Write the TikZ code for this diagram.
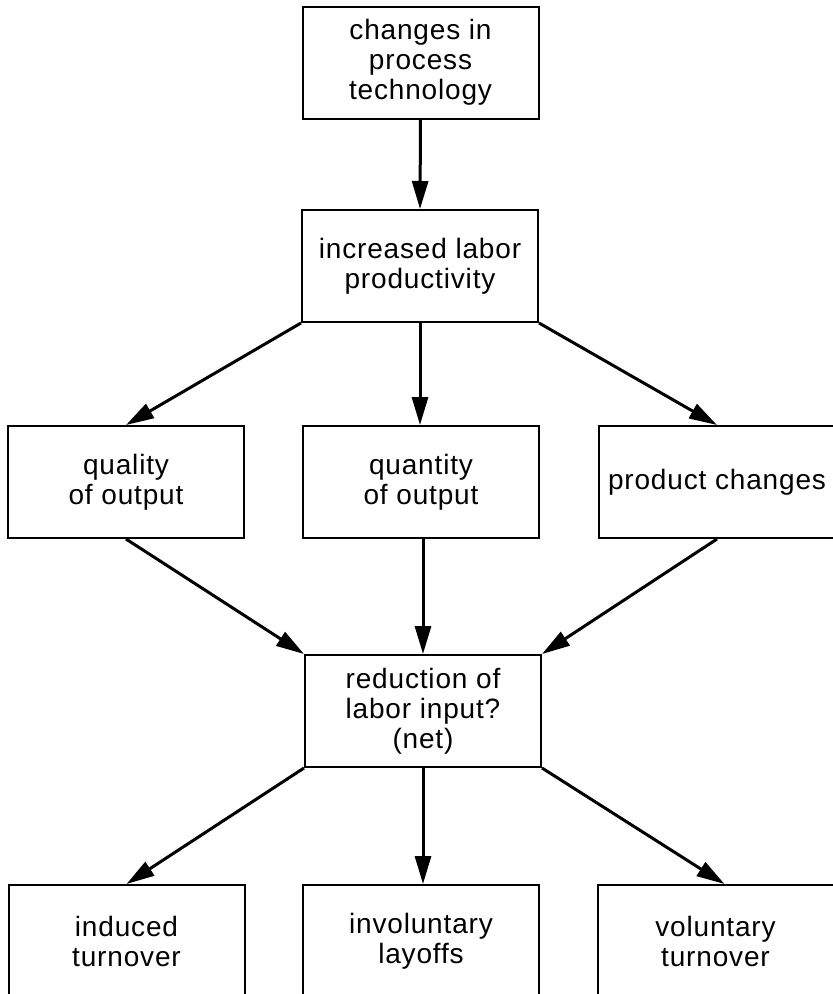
\documentclass[tikz,border=0pt]{standalone}
\usepackage{fontspec}
\setmainfont[LetterSpace=3]{Liberation Sans}
\usepackage{tikz}
\usetikzlibrary{arrows.meta}

\begin{document}
\begin{tikzpicture}[x=1pt, y=-1pt,
		box/.style={draw=black, line width=2pt, minimum width=236pt, minimum height=112pt,
			align=center, inner sep=0pt, font=\fontsize{28}{30}\selectfont},
		arr/.style={line width=3pt, -{Triangle[length=28pt,width=16pt]}}]
				\useasboundingbox (0,0) rectangle (833,994);
				% top of the chain
				\node[box] (tech) at (420.5,62.5) {changes in\\process\\technology};
				\node[box] (prod) at (420,266) {increased labor\\productivity};
				% middle row
				\node[box] (quality) at (126,482) {quality\\of output};
				\node[box] (quantity) at (421,482) {quantity\\of output};
				\node[box] (product) at (717,482) {product changes};
				\node[box] (reduct) at (423,711) {reduction of\\labor input?\\(net)};
				% bottom row
				\node[box] (induced) at (126.5,941) {induced\\turnover};
				\node[box] (layoffs) at (421,941) {involuntary\\layoffs};
				\node[box] (volunt) at (715.5,941) {voluntary\\turnover};

				\draw[arr] (tech.south) -- (prod.north);
				\draw[arr] (prod.south west) -- (quality.north);
				\draw[arr] (prod.south) -- (quantity.north -| prod.south);
				\draw[arr] (prod.south east) -- (product.north);
				\draw[arr] (quality.south) -- (reduct.north west);
				\draw[arr] (quantity.south -| reduct.north) -- (reduct.north);
				\draw[arr] (product.south) -- (reduct.north east);
				\draw[arr] (reduct.south west) -- (induced.north);
				\draw[arr] (reduct.south) -- (layoffs.north -| reduct.south);
				\draw[arr] (reduct.south east) -- ([xshift=9pt]volunt.north);
			\end{tikzpicture}
\end{document}
